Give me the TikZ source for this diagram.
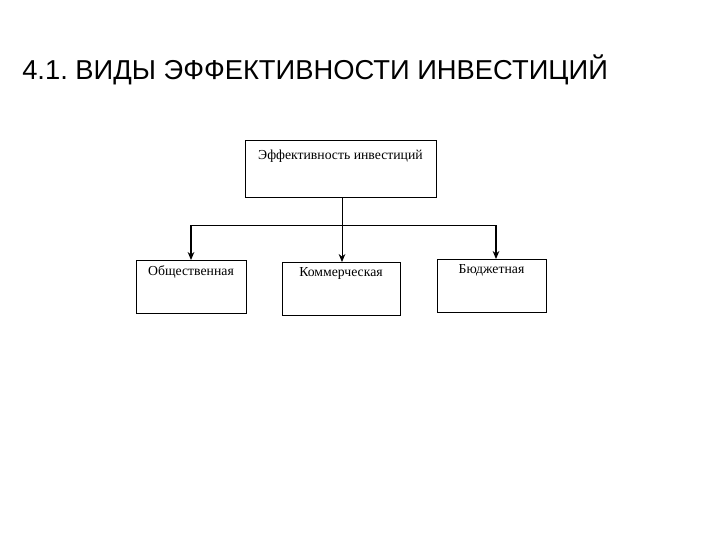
\documentclass[tikz,border=0pt]{standalone}
\usepackage{fontspec}
\setmainfont{Liberation Serif}
\newfontfamily\titlefont{Liberation Sans}
\usetikzlibrary{arrows.meta}
\frenchspacing
\begin{document}
\begin{tikzpicture}[x=0.75pt,y=-0.75pt,
  box/.style={draw,semithick,anchor=north west,inner sep=0pt},
  lbl/.style={anchor=north,font=\fontsize{10.3}{12}\selectfont,inner sep=0pt},
  arr/.style={semithick,-{Stealth[length=6pt,width=5pt]}}]
\useasboundingbox (0,0) rectangle (720,540);
\node[anchor=west,inner sep=0pt,font=\titlefont\fontsize{20.5}{24}\selectfont] (title) at (22,70) {4.1. ВИДЫ ЭФФЕКТИВНОСТИ ИНВЕСТИЦИЙ};
\node[box,minimum width=143.25pt,minimum height=42.75pt] (top) at (245,140) {};
\node[lbl] (topl) at (340.5,150) {Эффективность инвестиций};
\node[box,minimum width=82.5pt,minimum height=39.75pt] (b1) at (136,260) {};
\node[lbl] (b1l) at (191,265) {Общественная};
\node[box,minimum width=88.5pt,minimum height=39.75pt] (b2) at (282,262) {};
\node[lbl] (b2l) at (341,267) {Коммерческая};
\node[box,minimum width=81.75pt,minimum height=39.75pt] (b3) at (437,259) {};
\node[lbl] (b3l) at (491.5,264) {Бюджетная};
\coordinate (j1) at (191,225);
\coordinate (j3) at (496,225);
\draw[semithick] (j1) -- (j3);
\draw[arr] (top.south -| 342,0) -- (b2.north -| 342,0);
\draw[arr,thick] (j1) -- (b1.north -| j1);
\draw[arr,thick] (j3) -- (b3.north -| j3);
\end{tikzpicture}
\end{document}
